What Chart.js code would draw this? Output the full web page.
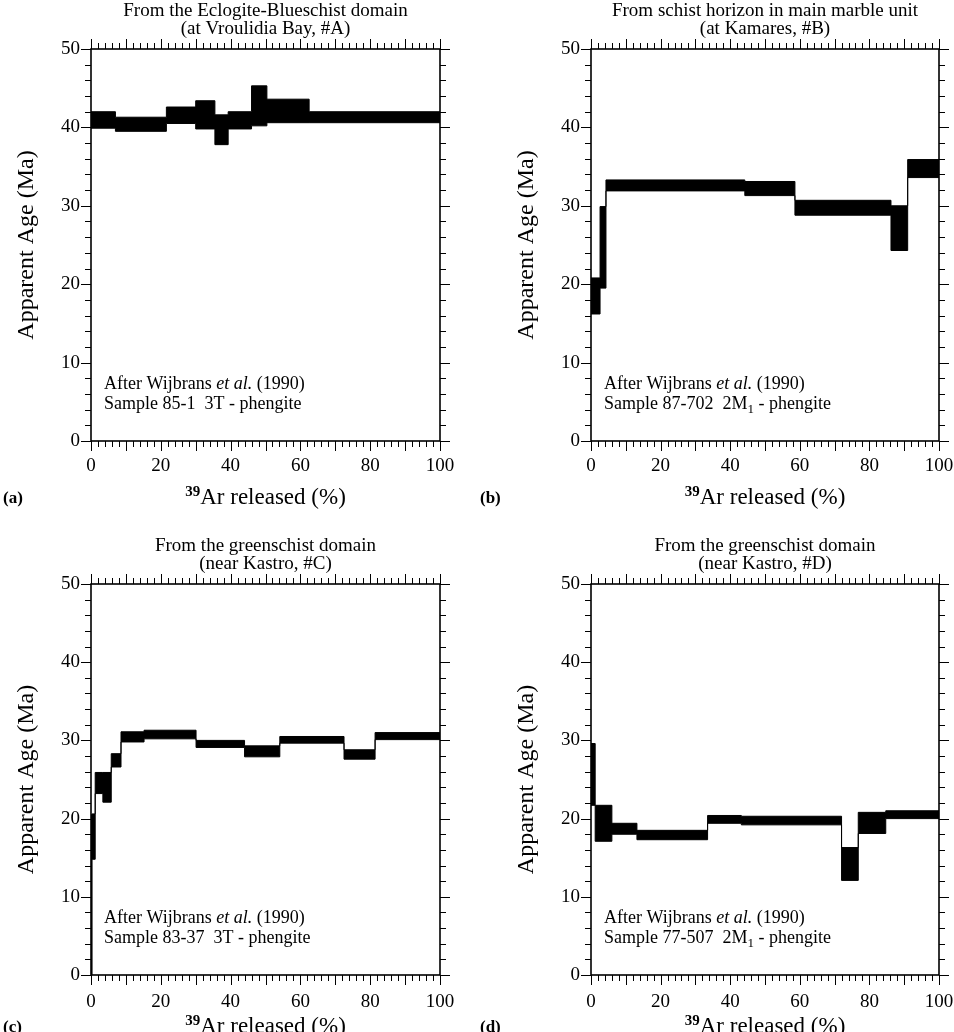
<!DOCTYPE html>
<html>
<head>
<meta charset="utf-8">
<script src="https://cdn.jsdelivr.net/npm/chart.js@4/dist/chart.umd.min.js"></script>
<style>
  body { margin: 0; background: #fff; overflow: hidden; }
  #wrap { position: relative; width: 954px; height: 1032px; }
  canvas { position: absolute; }
</style>
</head>
<body>
<div id="wrap">
  <canvas id="chartA" width="477" height="520" style="left:0;top:0"></canvas>
  <canvas id="chartB" width="477" height="520" style="left:477px;top:0"></canvas>
  <canvas id="chartC" width="477" height="512" style="left:0;top:520px"></canvas>
  <canvas id="chartD" width="477" height="512" style="left:477px;top:520px"></canvas>
</div>
<script>
// axes
const xMax = 100
const yMax = 50
const xLabelStep = 20
const yLabelStep = 10

// panel (a) - step start (% 39Ar), upper and lower age (Ma)
const startA = [0, 7, 21.6, 30, 35.5, 39.3, 46, 50.4, 62.5]
const highA = [42.0, 41.3, 42.6, 43.4, 41.6, 42.0, 45.3, 43.6, 42.0]
const lowA = [39.9, 39.5, 40.5, 39.8, 37.8, 39.8, 40.2, 40.6, 40.6]

// panel (b)
const startB = [0, 2.6, 4.3, 44.2, 58.6, 86.2, 91]
const highB = [20.8, 29.9, 33.3, 33.1, 30.7, 30.0, 35.9]
const lowB = [16.2, 19.5, 31.9, 31.3, 28.8, 24.3, 33.6]

// panel (c)
const startC = [0, 0.3, 1.2, 3.4, 5.8, 8.6, 15.2, 30.1, 44, 54.1, 72.5, 81.4]
const highC = [20.5, 20.6, 25.9, 25.9, 28.3, 31.1, 31.3, 30.0, 29.3, 30.5, 28.8, 31.0]
const lowC = [0, 14.8, 23.2, 22.1, 26.6, 29.8, 30.2, 29.1, 27.9, 29.65, 27.6, 30.1]

// panel (d)
const startD = [0, 1.2, 6, 13.2, 33.5, 43.2, 72, 76.8, 84.7]
const highD = [29.6, 21.7, 19.4, 18.5, 20.4, 20.3, 16.3, 20.8, 21.0]
const lowD = [21.7, 17.1, 18.0, 17.3, 19.4, 19.2, 12.1, 18.1, 20.0]

const serif = '"Liberation Serif", "Times New Roman", serif'

function stepPoints(start, vals) {
  const pts = start.map((x, i) => ({x: x, y: vals[i]}))
  pts.push({x: xMax, y: vals[vals.length - 1]})
  return pts
}

function drawRuns(ctx, runs, x, y, align) {
  let total = 0
  runs.forEach(r => { ctx.font = r.font; r.w = ctx.measureText(r.t).width; total += r.w })
  let cx = align === 'center' ? x - total / 2 : x
  runs.forEach(r => {
    ctx.font = r.font
    ctx.fillText(r.t, cx, y + (r.dy || 0))
    cx += r.w
  })
}

function makeDecor(p) {
  return {
    id: 'decor',
    afterDraw(chart) {
      const ctx = chart.ctx
      const {left, right, top, bottom} = chart.chartArea
      const xs = chart.scales.x, ys = chart.scales.y
      ctx.save()
      ctx.strokeStyle = '#000'
      ctx.fillStyle = '#000'
      ctx.lineWidth = 1.6
      ctx.strokeRect(left, top, right - left, bottom - top)
      ctx.lineWidth = 1
      ctx.beginPath()
      for (let v = 0; v <= xMax; v += 2) {
        const len = v % 10 === 0 ? 10 : 6
        const px = Math.round(xs.getPixelForValue(v)) + 0.5
        ctx.moveTo(px, top); ctx.lineTo(px, top - len)
        ctx.moveTo(px, bottom); ctx.lineTo(px, bottom + len)
      }
      for (let v = 0; v <= yMax; v += 2) {
        const len = v % 10 === 0 ? 10 : 6
        const py = Math.round(ys.getPixelForValue(v)) + 0.5
        ctx.moveTo(left, py); ctx.lineTo(left - len, py)
        ctx.moveTo(right, py); ctx.lineTo(right + len, py)
      }
      ctx.stroke()

      const cx = (left + right) / 2
      ctx.textBaseline = 'alphabetic'
      ctx.textAlign = 'left'
      drawRuns(ctx, [{t: p.title[0], font: '19px ' + serif}], cx, top - 33, 'center')
      drawRuns(ctx, [{t: p.title[1], font: '19px ' + serif}], cx, top - 15, 'center')

      const reg = '18px ' + serif
      drawRuns(ctx, [
        {t: 'After Wijbrans ', font: reg},
        {t: 'et al.', font: 'italic 18px ' + serif},
        {t: ' (1990)', font: reg}
      ], left + 13, bottom - 52, 'left')
      const sample = [{t: p.sample[0], font: reg}]
      if (p.sample[1]) {
        sample.push({t: p.sample[1], font: '13px ' + serif, dy: 4})
        sample.push({t: p.sample[2], font: reg})
      }
      drawRuns(ctx, sample, left + 13, bottom - 32, 'left')

      drawRuns(ctx, [
        {t: '39', font: 'bold 15px ' + serif, dy: -8},
        {t: 'Ar released (%)', font: '23px ' + serif}
      ], cx, bottom + p.titleDy, 'center')
      drawRuns(ctx, [{t: p.letter, font: 'bold 17px ' + serif}], 3, bottom + p.titleDy - 1, 'left')
      ctx.restore()
    }
  }
}

function makeChart(p) {
  const el = document.getElementById(p.id)
  return new Chart(el, {
    type: 'line',
    data: {
      datasets: [
        {data: stepPoints(p.start, p.low), stepped: 'before', borderColor: '#000', borderWidth: 1, pointRadius: 0, fill: false},
        {data: stepPoints(p.start, p.high), stepped: 'before', borderColor: '#000', borderWidth: 1, pointRadius: 0, backgroundColor: '#000', fill: '-1'}
      ]
    },
    options: {
      responsive: false,
      animation: false,
      layout: {padding: {left: p.padL, right: p.padR, top: p.padT, bottom: 0}},
      plugins: {legend: {display: false}, tooltip: {enabled: false}},
      scales: {
        x: {
          type: 'linear', min: 0, max: xMax,
          grid: {display: false, drawTicks: false}, border: {display: false},
          ticks: {stepSize: xLabelStep, padding: p.xPad, color: '#000', maxRotation: 0, font: {family: serif, size: 19}},
          afterFit: s => { s.height = p.xH; s.paddingLeft = 0; s.paddingRight = 0 }
        },
        y: {
          min: 0, max: yMax,
          grid: {display: false, drawTicks: false}, border: {display: false},
          ticks: {stepSize: yLabelStep, padding: 11, color: '#000', font: {family: serif, size: 19}},
          title: {display: true, text: 'Apparent Age (Ma)', color: '#000', font: {family: serif, size: 24}, padding: {top: 12, bottom: 0}},
          afterFit: s => { s.width = 91; s.paddingTop = 0; s.paddingBottom = 0 }
        }
      }
    },
    plugins: [makeDecor(p)]
  })
}

makeChart({id: 'chartA', start: startA, high: highA, low: lowA, padL: 0, padR: 37, padT: 49, xH: 79, xPad: 14, titleDy: 63,
  title: ['From the Eclogite-Blueschist domain', '(at Vroulidia Bay, #A)'],
  sample: ['Sample 85-1  3T - phengite'], letter: '(a)'})
makeChart({id: 'chartB', start: startB, high: highB, low: lowB, padL: 23, padR: 15, padT: 49, xH: 79, xPad: 14, titleDy: 63,
  title: ['From schist horizon in main marble unit', '(at Kamares, #B)'],
  sample: ['Sample 87-702  2M', '1', ' - phengite'], letter: '(b)'})
makeChart({id: 'chartC', start: startC, high: highC, low: lowC, padL: 0, padR: 37, padT: 64, xH: 57, xPad: 16, titleDy: 58,
  title: ['From the greenschist domain', '(near Kastro, #C)'],
  sample: ['Sample 83-37  3T - phengite'], letter: '(c)'})
makeChart({id: 'chartD', start: startD, high: highD, low: lowD, padL: 23, padR: 15, padT: 64, xH: 57, xPad: 16, titleDy: 58,
  title: ['From the greenschist domain', '(near Kastro, #D)'],
  sample: ['Sample 77-507  2M', '1', ' - phengite'], letter: '(d)'})
</script>
</body>
</html>
